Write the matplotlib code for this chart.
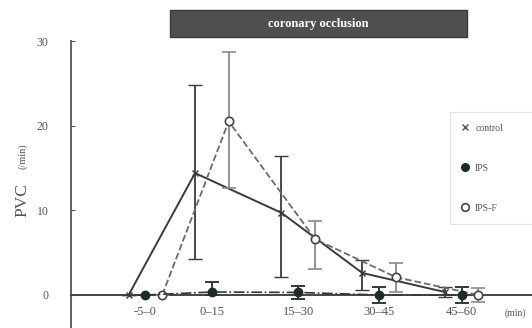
import matplotlib.pyplot as plt
from matplotlib.lines import Line2D
import numpy as np

# Data (PVC per minute)
periods = ['-5–0', '0–15', '15–30', '30–45', '45–60']
period_pos = [0.03, 0.86, 1.94, 2.95, 3.98]

control = [0.0, 14.4, 9.7, 2.6, 0.35]
control_lo = [0.0, 10.2, 7.6, 2.0, 0.6]
control_hi = [0.0, 10.4, 6.7, 1.5, 0.6]

ips = [0.0, 0.35, 0.3, 0.0, 0.0]
ips_lo = [0.0, 0.4, 0.8, 0.9, 0.9]
ips_hi = [0.0, 1.2, 0.8, 0.9, 0.9]

ipsf = [0.0, 20.5, 6.6, 2.1, 0.0]
ipsf_lo = [0.0, 7.9, 3.5, 1.8, 0.8]
ipsf_hi = [0.0, 8.2, 2.1, 1.7, 0.8]

serif = ['Liberation Serif', 'DejaVu Serif']
txt = '#555555'

fig = plt.figure(figsize=(5.32, 3.28), dpi=100)
ax = fig.add_axes([71 / 532, 0, 1 - 71 / 532, 1 - 41 / 328])

pos = np.array(period_pos)
off = 0.21

# control
ax.errorbar(pos - off, control, yerr=[control_lo, control_hi], color='#3a3a3a',
            lw=1.4, marker='x', ms=4, mew=1, capsize=5, elinewidth=1.3, capthick=1.3, zorder=3)
# IPS-F
ax.errorbar(pos + off, ipsf, yerr=[ipsf_lo, ipsf_hi], color='#6a6a6a', ls='--',
            lw=1.3, marker='o', ms=6, mfc='white', mec='#444444', mew=1.2,
            capsize=5, elinewidth=1.3, ecolor='#8a8a8a', capthick=1.3, zorder=4)
# IPS
ax.errorbar(pos, ips, yerr=[ips_lo, ips_hi], color='#2e3a3a', ls='-.',
            lw=1.2, marker='o', ms=6, mfc='#1f2a2a', mec='#1f2a2a',
            capsize=5, elinewidth=1.4, capthick=1.4, zorder=5)

ax.set_xlim(-0.9, 4.86)
ax.set_ylim(-3.9, 30)

for s in ['top', 'right']:
    ax.spines[s].set_visible(False)
ax.spines['bottom'].set_position(('data', 0))
ax.spines['bottom'].set_color('#444444')
ax.spines['bottom'].set_linewidth(1.4)
ax.spines['left'].set_color('#555555')
ax.spines['left'].set_linewidth(1.3)

ax.set_yticks([0, 10, 20, 30])
ax.set_yticklabels(['0', '10', '20', '30'], family=serif, fontsize=8.5, color=txt)
ax.tick_params(axis='y', direction='in', length=3, pad=16, colors='#555555')
ax.set_xticks(period_pos)
ax.set_xticklabels(periods, family=serif, fontsize=9, color=txt)
ax.tick_params(axis='x', length=0, pad=8)
ax.text(4.65, -2.2, '(min)', family=serif, fontsize=7, color=txt, ha='center', va='center')

# y label
fig.text(22 / 532, 1 - 200 / 328, 'PVC', family=serif, fontsize=12.5, color=txt,
         rotation=90, ha='center', va='center')
fig.text(23 / 532, 1 - 156 / 328, '(/min)', family=serif, fontsize=7.5, color=txt,
         rotation=90, ha='center', va='center')

# title box
fig.patches.append(plt.Rectangle((170 / 532, 1 - 37 / 328), 297 / 532, 27 / 328,
                                 transform=fig.transFigure, facecolor='#4f4f52',
                                 edgecolor='#3a3a3a', zorder=1))
fig.text(318 / 532, 1 - 24 / 328, 'coronary occlusion', family=serif, fontsize=9,
         fontweight='bold', color='white', ha='center', va='center')

# legend
handles = [Line2D([], [], ls='none', marker='x', ms=4, color='#555555'),
           Line2D([], [], ls='none', marker='o', ms=5.5, color='#1f2a2a'),
           Line2D([], [], ls='none', marker='o', ms=5.5, mfc='white', mec='#444444', mew=1.2)]
leg = fig.legend(handles, ['control', 'IPS', 'IPS-F'], loc='upper left',
                 bbox_to_anchor=(445 / 532, 1 - 228 / 328, 100 / 532, 121 / 328),
                 mode='expand', frameon=True,
                 prop={'family': serif, 'size': 7}, labelspacing=3.2,
                 handlelength=0.8, handletextpad=0.6, borderpad=1.2,
                 fancybox=False, labelcolor=txt)
leg.get_frame().set_edgecolor('#dddddd')
leg.get_frame().set_linewidth(0.8)

fig.savefig('out.png', dpi=100)
